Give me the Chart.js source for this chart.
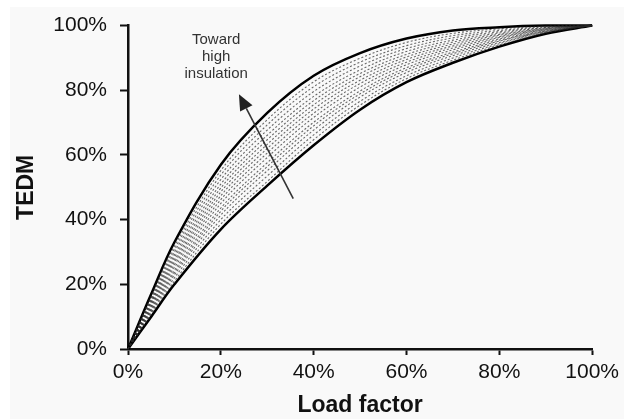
<!DOCTYPE html>
<html>
<head>
<meta charset="utf-8">
<script src="https://cdn.jsdelivr.net/npm/chart.js@4"></script>
<style>
  html, body { margin: 0; padding: 0; background: #ffffff; }
  #wrap { width: 624px; height: 419px; }
</style>
</head>
<body>
<div id="wrap"><canvas id="tedmChart" width="624" height="419"></canvas></div>
<script>
// Load factor grid (%) shared by every curve
const loadFactor = [0, 5, 10, 20, 30, 40, 50, 60, 70, 80, 90, 100];

// Solid envelope curves (TEDM as a fraction)
const upperBound = [0, 0.17, 0.33, 0.57, 0.73, 0.845, 0.915, 0.96, 0.985, 0.995, 1.0, 1.0];
const lowerBound = [0, 0.10, 0.20, 0.37, 0.505, 0.63, 0.74, 0.825, 0.885, 0.935, 0.975, 1.0];

// Dashed curves between the envelopes (one per insulation case)
const midCurves = [
    [0, 0.106, 0.210, 0.386, 0.518, 0.647, 0.754, 0.836, 0.893, 0.940, 0.977, 1],
    [0, 0.111, 0.220, 0.400, 0.535, 0.662, 0.766, 0.845, 0.900, 0.944, 0.979, 1],
    [0, 0.115, 0.229, 0.414, 0.551, 0.677, 0.779, 0.855, 0.907, 0.948, 0.981, 1],
    [0, 0.120, 0.236, 0.426, 0.564, 0.690, 0.789, 0.863, 0.913, 0.952, 0.982, 1],
    [0, 0.123, 0.243, 0.436, 0.576, 0.701, 0.798, 0.870, 0.918, 0.955, 0.983, 1],
    [0, 0.128, 0.252, 0.450, 0.592, 0.716, 0.810, 0.879, 0.925, 0.959, 0.985, 1],
    [0, 0.132, 0.260, 0.462, 0.606, 0.729, 0.821, 0.887, 0.931, 0.963, 0.987, 1],
    [0, 0.136, 0.268, 0.474, 0.620, 0.742, 0.831, 0.895, 0.937, 0.966, 0.988, 1],
    [0, 0.141, 0.275, 0.486, 0.633, 0.755, 0.842, 0.903, 0.943, 0.970, 0.990, 1],
    [0, 0.145, 0.283, 0.498, 0.647, 0.768, 0.852, 0.911, 0.949, 0.973, 0.991, 1],
    [0, 0.149, 0.291, 0.510, 0.661, 0.781, 0.863, 0.920, 0.955, 0.977, 0.993, 1],
    [0, 0.154, 0.300, 0.524, 0.677, 0.796, 0.875, 0.929, 0.962, 0.981, 0.994, 1],
    [0, 0.159, 0.309, 0.538, 0.693, 0.811, 0.887, 0.938, 0.969, 0.985, 0.996, 1],
    [0, 0.164, 0.318, 0.552, 0.709, 0.826, 0.899, 0.948, 0.976, 0.990, 0.998, 1]
];

const yTicks = [0, 0.2, 0.4, 0.6, 0.8, 1.0];

// Annotation: arrow from tail to tip, in data units (load %, TEDM)
const arrowTail = [35.6, 0.465];
const arrowTip = [23.9, 0.788];
const noteAnchor = [19, 0.955];
const noteLines = ['Toward', 'high', 'insulation'];

const toPoints = (ys) => ys.map((y, i) => ({ x: loadFactor[i], y: y }));

const datasets = [];
midCurves.forEach((c) => {
    datasets.push({
        data: toPoints(c),
        borderColor: 'rgba(40, 40, 40, 0.7)',
        borderWidth: 1.1,
        borderDash: [2, 2],
        pointRadius: 0,
        tension: 0.35,
        clip: 8
    });
});
[upperBound, lowerBound].forEach((c) => {
    datasets.push({
        data: toPoints(c),
        borderColor: '#000000',
        borderWidth: 2.5,
        pointRadius: 0,
        tension: 0.35,
        clip: 8
    });
});

const backdrop = {
    id: 'backdrop',
    beforeDraw(chart) {
        const ctx = chart.ctx;
        ctx.save();
        ctx.fillStyle = '#ffffff';
        ctx.fillRect(0, 0, chart.width, chart.height);
        ctx.fillStyle = '#f9f9f9';
        ctx.fillRect(10, 7, chart.width - 10, chart.height - 7);
        ctx.restore();
    }
};

const arrowNote = {
    id: 'arrowNote',
    afterDatasetsDraw(chart) {
        const { ctx, scales: { x, y } } = chart;
        const x0 = x.getPixelForValue(arrowTail[0]), y0 = y.getPixelForValue(arrowTail[1]);
        const x1 = x.getPixelForValue(arrowTip[0]), y1 = y.getPixelForValue(arrowTip[1]);
        const ang = Math.atan2(y1 - y0, x1 - x0);
        const headLen = 16, headW = 7;
        const bx = x1 - headLen * Math.cos(ang), by = y1 - headLen * Math.sin(ang);
        ctx.save();
        ctx.strokeStyle = '#333333';
        ctx.fillStyle = '#222222';
        ctx.lineWidth = 1.6;
        ctx.beginPath();
        ctx.moveTo(x0, y0);
        ctx.lineTo(bx, by);
        ctx.stroke();
        ctx.beginPath();
        ctx.moveTo(x1, y1);
        ctx.lineTo(bx + headW * Math.sin(ang), by - headW * Math.cos(ang));
        ctx.lineTo(bx - headW * Math.sin(ang), by + headW * Math.cos(ang));
        ctx.closePath();
        ctx.fill();

        ctx.font = '15px "Liberation Sans", Arial, sans-serif';
        ctx.fillStyle = '#333333';
        ctx.textAlign = 'center';
        ctx.textBaseline = 'middle';
        const ax = x.getPixelForValue(noteAnchor[0]), ay = y.getPixelForValue(noteAnchor[1]);
        noteLines.forEach((t, i) => ctx.fillText(t, ax, ay + i * 17));
        ctx.restore();
    }
};

const axisFont = { family: '"Liberation Sans", Arial, sans-serif', size: 21 };
const titleFont = { family: '"Liberation Sans", Arial, sans-serif', size: 23, weight: 'bold' };

new Chart(document.getElementById('tedmChart'), {
    type: 'line',
    data: { datasets: datasets },
    options: {
        responsive: false,
        animation: false,
        layout: { padding: { left: 0, top: 24, right: 27, bottom: 0 } },
        plugins: { legend: { display: false }, tooltip: { enabled: false } },
        scales: {
            x: {
                type: 'linear',
                min: 0,
                max: 100,
                afterFit: (s) => { s.height = 70; },
                ticks: {
                    stepSize: 20,
                    color: '#111111',
                    font: axisFont,
                    padding: 5,
                    maxRotation: 0,
                    callback: (v) => v + '%'
                },
                grid: { drawOnChartArea: false, drawTicks: true, tickLength: 6, tickWidth: 2, tickColor: '#111111' },
                border: { display: true, color: '#111111', width: 2.5 },
                title: { display: true, text: 'Load factor', color: '#111111', font: titleFont, padding: { top: 0, bottom: 0 } }
            },
            y: {
                type: 'linear',
                min: 0,
                max: 1,
                afterFit: (s) => { s.width = 128; },
                afterBuildTicks: (s) => { s.ticks = yTicks.map((v) => ({ value: v })); },
                ticks: {
                    color: '#111111',
                    font: axisFont,
                    padding: 13,
                    callback: (v) => Math.round(v * 100) + '%'
                },
                grid: { drawOnChartArea: false, drawTicks: true, tickLength: 8, tickWidth: 2, tickColor: '#111111' },
                border: { display: true, color: '#111111', width: 2.5 },
                title: { display: true, text: 'TEDM', color: '#111111', font: titleFont, padding: { top: 13, bottom: 0 } }
            }
        }
    },
    plugins: [backdrop, arrowNote]
});
</script>
</body>
</html>
